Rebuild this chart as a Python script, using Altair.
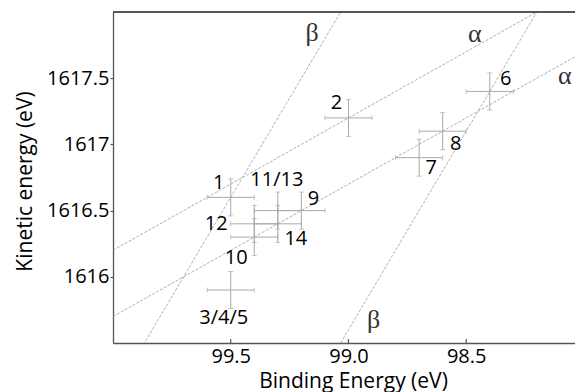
import altair as alt
import pandas as pd

# ---- data ----
labels = ["1", "2", "3/4/5", "6", "7", "8", "9", "10", "11/13", "12", "14"]
binding = [99.5, 99.0, 99.5, 98.4, 98.7, 98.6, 99.2, 99.4, 99.3, 99.4, 99.3]
kinetic = [1616.6, 1617.2, 1615.9, 1617.4, 1616.9, 1617.1, 1616.5, 1616.3, 1616.5, 1616.4, 1616.4]
binding_err = [0.1] * 11
kinetic_err = [0.14] * 11

# label placement offsets (px) relative to each cross
label_dx = [-12, -12, -7, 16, 12, 13, 12, -18, -1, -38, 18]
label_dy = [-14, -15, 28, -12, 10, 13, -12, 21, -31, 0, 15]

# guide lines: KE = const - slope * BE
line_names = ["alpha_upper", "alpha_lower", "beta_upper", "beta_lower"]
line_const = [1716.2, 1715.7, 1915.1, 1912.6]
line_slope = [1.0, 1.0, 3.0, 3.0]
line_be_span = [97.8, 100.3]

greek_text = ["β", "α", "α", "β"]
greek_be = [99.154, 98.463, 98.081, 98.893]
greek_ke = [1617.844, 1617.837, 1617.514, 1615.671]

x_ticks = [99.5, 99.0, 98.5]
y_ticks = [1616, 1616.5, 1617, 1617.5]

W, H = 462, 331
FONT = "Open Sans"
AXIS_COL = "#555555"
BAR_COL = "#a9a9a9"

# ---- tables ----
pts = pd.DataFrame({
    "label": labels, "be": binding, "ke": kinetic,
    "be_err": binding_err, "ke_err": kinetic_err,
})
pts["be_lo"] = pts.be - pts.be_err
pts["be_hi"] = pts.be + pts.be_err
pts["ke_lo"] = pts.ke - pts.ke_err
pts["ke_hi"] = pts.ke + pts.ke_err

hcaps = pd.DataFrame({
    "be": list(pts.be_lo) + list(pts.be_hi),
    "ke": list(pts.ke) * 2,
})
vcaps = pd.DataFrame({
    "be": list(pts.be) * 2,
    "ke": list(pts.ke_lo) + list(pts.ke_hi),
})

rows = []
for n, c, s in zip(line_names, line_const, line_slope):
    for b in line_be_span:
        rows.append({"line": n, "be": b, "ke": c - s * b})
lines = pd.DataFrame(rows)

greek = pd.DataFrame({"t": greek_text, "be": greek_be, "ke": greek_ke})
xt = pd.DataFrame({"v": x_ticks})

x_scale = alt.Scale(domain=[98.038, 100], reverse=True, nice=False, zero=False)
y_scale = alt.Scale(domain=[1615.5, 1618], nice=False, zero=False)

x_axis = alt.Axis(
    values=x_ticks, format=".1f", ticks=False, grid=False,
    labelPadding=3, labelFont=FONT, labelFontSize=20, labelColor="black",
    domainColor=AXIS_COL, domainWidth=1.3,
    title="Binding Energy (eV)", titleFont=FONT, titleFontSize=21,
    titleFontWeight="normal", titleColor="black",
    titleX=240, titleY=44, titleAlign="center", titleBaseline="alphabetic",
)
y_axis = alt.Axis(
    values=y_ticks, format="~f", tickSize=3, tickColor=AXIS_COL, tickWidth=1.2,
    grid=False, labelPadding=1, labelFont=FONT, labelFontSize=20, labelColor="black",
    domainColor=AXIS_COL, domainWidth=1.3,
    title="Kinetic energy (eV)", titleFont=FONT, titleFontSize=21,
    titleFontWeight="normal", titleColor="black",
    titleX=-82, titleY=169, titleAngle=270, titleAlign="center",
    titleBaseline="alphabetic",
)


def X(f):
    return alt.X(f, type="quantitative", scale=x_scale, axis=x_axis)


def Y(f):
    return alt.Y(f, type="quantitative", scale=y_scale, axis=y_axis)


guide = alt.Chart(lines).mark_line(
    clip=True, color="#8c8c8c", strokeWidth=0.7, strokeDash=[3, 1.5]
).encode(x=X("be"), y=Y("ke"), detail="line:N")

hbar = alt.Chart(pts).mark_rule(color=BAR_COL, strokeWidth=1).encode(
    x=X("be_lo"), x2="be_hi", y=Y("ke")
)
vbar = alt.Chart(pts).mark_rule(color=BAR_COL, strokeWidth=1).encode(
    x=X("be"), y=Y("ke_lo"), y2="ke_hi"
)
hcap = alt.Chart(hcaps).mark_tick(
    orient="vertical", size=5, thickness=1, color=BAR_COL
).encode(x=X("be"), y=Y("ke"))
vcap = alt.Chart(vcaps).mark_tick(
    orient="horizontal", size=5, thickness=1, color=BAR_COL
).encode(x=X("be"), y=Y("ke"))

texts = []
for lab, dx, dy in zip(labels, label_dx, label_dy):
    texts.append(
        alt.Chart(pts).transform_filter(alt.datum.label == lab).mark_text(
            font=FONT, fontSize=20, color="black", dx=dx, dy=dy,
            align="center", baseline="middle",
        ).encode(x=X("be"), y=Y("ke"), text="label:N")
    )

greek_layer = alt.Chart(greek).mark_text(
    font="Liberation Serif", fontSize=26, color="#333333",
    align="center", baseline="middle",
).encode(x=X("be"), y=Y("ke"), text="t:N")

xticks_layer = alt.Chart(xt).mark_rule(color=AXIS_COL, strokeWidth=1.2).encode(
    x=X("v"), y=alt.value(H - 4), y2=alt.value(H)
)

top_border = alt.Chart(xt).mark_rule(color=AXIS_COL, strokeWidth=1.3).encode(
    x=alt.value(0), x2=alt.value(W), y=alt.value(0)
)

chart = alt.layer(
    guide, hbar, vbar, hcap, vcap, *texts, greek_layer, xticks_layer, top_border
).properties(
    width=W, height=H,
    padding={"left": 113, "top": 12, "right": 0, "bottom": 49},
    autosize=alt.AutoSizeParams(type="none"),
).configure_view(stroke=None)

chart.save("out.html", embed_options={"renderer": "svg", "actions": False})
